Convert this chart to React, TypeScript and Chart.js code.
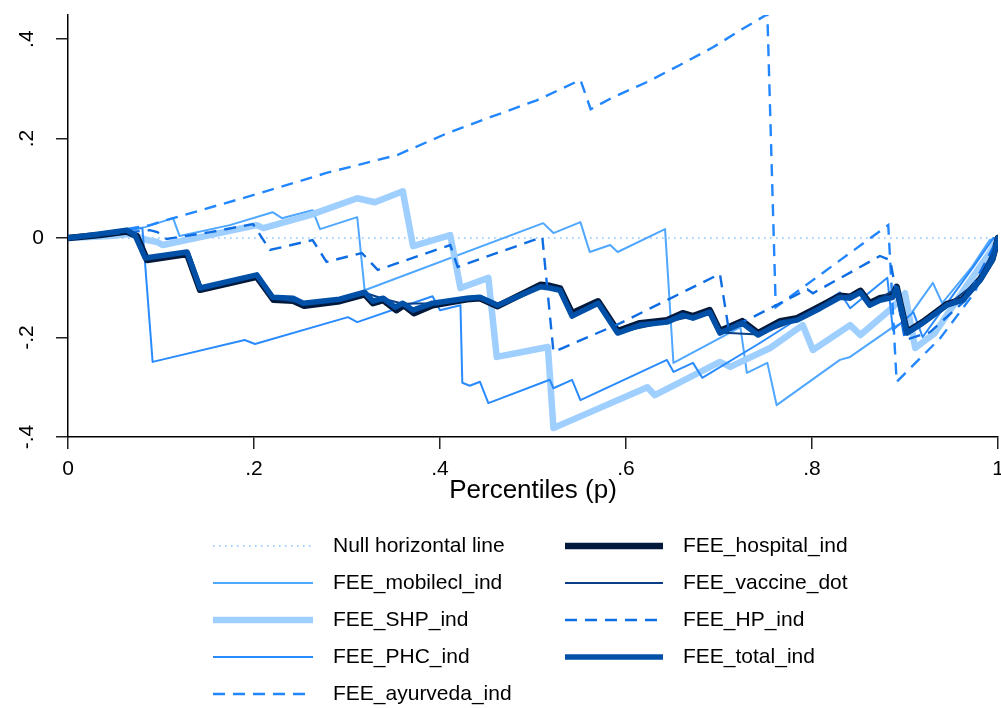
import React, { useEffect, useRef } from "react";
import { Chart, registerables } from "chart.js";

Chart.register(...registerables);

type Pt = [number, number];

// Axis ticks
const xTickValues = [0, 0.2, 0.4, 0.6, 0.8, 1];
const xTickLabels = ["0", ".2", ".4", ".6", ".8", "1"];
const yTickValues = [-0.4, -0.2, 0, 0.2, 0.4];
const yTickLabels = ["-.4", "-.2", "0", ".2", ".4"];

// Series: [percentile p, FEE value]
const nullLine: Pt[] = [[0, 0], [1, 0]];

const mobilecl: Pt[] = [
  [0, 0], [0.045, 0.012], [0.083, 0.022], [0.113, 0.04], [0.12, 0.004], [0.174, 0.026],
  [0.22, 0.052], [0.23, 0.04], [0.263, 0.056], [0.271, 0.018], [0.311, 0.042], [0.319, -0.105],
  [0.511, 0.03], [0.522, 0.01], [0.551, 0.032], [0.561, -0.028], [0.583, -0.014], [0.591, -0.028],
  [0.642, 0.018], [0.651, -0.251], [0.723, -0.179], [0.73, -0.271], [0.752, -0.251], [0.762, -0.336],
  [0.83, -0.245], [0.841, -0.239], [0.887, -0.179], [0.9, -0.169], [0.93, -0.09], [0.94, -0.131],
  [0.972, -0.058], [0.991, -0.004], [1, 0],
];

const shp: Pt[] = [
  [0, 0], [0.045, 0.004], [0.067, 0.008], [0.085, -0.004], [0.096, -0.008], [0.102, -0.014],
  [0.203, 0.026], [0.21, 0.02], [0.26, 0.046], [0.311, 0.08], [0.33, 0.072], [0.36, 0.094],
  [0.371, -0.016], [0.411, 0.006], [0.422, -0.1005], [0.452, -0.08], [0.461, -0.239], [0.483, -0.231],
  [0.516, -0.219], [0.522, -0.382], [0.554, -0.356], [0.623, -0.3], [0.631, -0.316], [0.701, -0.249],
  [0.712, -0.259], [0.755, -0.221], [0.79, -0.175], [0.801, -0.225], [0.841, -0.175], [0.852, -0.195],
  [0.887, -0.139], [0.9, -0.111], [0.911, -0.221], [0.932, -0.191], [0.967, -0.094], [0.991, -0.03],
  [1, 0],
];

const phc: Pt[] = [
  [0, 0], [0.045, 0.01], [0.08, 0.02], [0.091, -0.249], [0.19, -0.205], [0.201, -0.213],
  [0.301, -0.159], [0.311, -0.169], [0.392, -0.117], [0.4, -0.145], [0.422, -0.135], [0.424, -0.291],
  [0.432, -0.297], [0.443, -0.289], [0.452, -0.332], [0.518, -0.285], [0.522, -0.302], [0.542, -0.285],
  [0.551, -0.326], [0.644, -0.245], [0.651, -0.269], [0.672, -0.251], [0.682, -0.281], [0.744, -0.211],
  [0.83, -0.109], [0.841, -0.141], [0.881, -0.08], [0.887, -0.185], [0.909, -0.149], [0.919, -0.199],
  [0.975, -0.054], [0.995, 0], [1, 0],
];

const ayurveda: Pt[] = [
  [0, 0], [0.045, 0.012], [0.088, 0.026], [0.113, 0.04], [0.206, 0.09], [0.278, 0.131],
  [0.354, 0.167], [0.408, 0.211], [0.454, 0.243], [0.504, 0.277], [0.551, 0.318], [0.562, 0.259],
  [0.586, 0.283], [0.623, 0.314], [0.658, 0.348], [0.694, 0.384], [0.723, 0.418], [0.752, 0.45],
  [0.761, -0.139], [0.882, 0.026], [0.891, -0.289], [0.938, -0.201], [0.975, -0.109], [1, 0],
];

const hospital: Pt[] = [
  [0, 0], [0.034, 0.006], [0.063, 0.013], [0.074, 0.004], [0.085, -0.044], [0.128, -0.032],
  [0.142, -0.104], [0.203, -0.078], [0.221, -0.124], [0.242, -0.126], [0.254, -0.136], [0.292, -0.127],
  [0.319, -0.113], [0.328, -0.131], [0.339, -0.125], [0.353, -0.145], [0.361, -0.135], [0.372, -0.151],
  [0.392, -0.135], [0.429, -0.123], [0.443, -0.121], [0.462, -0.137], [0.508, -0.094], [0.518, -0.096],
  [0.529, -0.101], [0.542, -0.151], [0.57, -0.127], [0.591, -0.187], [0.615, -0.171], [0.644, -0.165],
  [0.661, -0.151], [0.672, -0.157], [0.69, -0.145], [0.701, -0.187], [0.725, -0.167], [0.742, -0.191],
  [0.766, -0.167], [0.784, -0.161], [0.809, -0.137], [0.83, -0.116], [0.841, -0.118], [0.852, -0.106],
  [0.862, -0.131], [0.873, -0.121], [0.887, -0.116], [0.891, -0.098], [0.902, -0.189], [0.919, -0.169],
  [0.945, -0.133], [0.962, -0.123], [0.981, -0.082], [0.994, -0.042], [1, 0],
];

const vaccine: Pt[] = [
  [0, 0], [0.034, 0.008], [0.063, 0.015], [0.072, 0.006], [0.083, -0.04], [0.128, -0.029],
  [0.142, -0.101], [0.203, -0.075], [0.22, -0.12], [0.253, -0.131], [0.292, -0.123], [0.319, -0.11],
  [0.339, -0.122], [0.36, -0.132], [0.392, -0.131], [0.443, -0.119], [0.462, -0.135], [0.508, -0.098],
  [0.529, -0.104], [0.542, -0.156], [0.57, -0.131], [0.591, -0.19], [0.644, -0.169], [0.69, -0.149],
  [0.701, -0.19], [0.742, -0.194], [0.784, -0.165], [0.83, -0.119], [0.852, -0.11], [0.862, -0.134],
  [0.891, -0.101], [0.902, -0.19], [0.945, -0.135], [0.981, -0.084], [1, 0],
];

const hp: Pt[] = [
  [0, 0], [0.045, 0.008], [0.088, 0.016], [0.096, 0.012], [0.106, -0.002], [0.153, 0.012],
  [0.199, 0.028], [0.217, -0.024], [0.263, -0.004], [0.278, -0.048], [0.316, -0.03], [0.333, -0.064],
  [0.411, -0.014], [0.419, -0.058], [0.51, 0.002], [0.522, -0.229], [0.594, -0.171], [0.701, -0.072],
  [0.71, -0.179], [0.73, -0.165], [0.795, -0.103], [0.801, -0.111], [0.873, -0.036], [0.884, -0.044],
  [0.9, -0.205], [0.927, -0.189], [0.965, -0.125], [1, 0],
];

const total: Pt[] = [
  [0, 0], [0.034, 0.008], [0.063, 0.016], [0.072, 0.006], [0.083, -0.04], [0.128, -0.028],
  [0.142, -0.1005], [0.203, -0.074], [0.22, -0.119], [0.242, -0.121], [0.253, -0.131], [0.292, -0.123],
  [0.319, -0.109], [0.328, -0.127], [0.339, -0.121], [0.352, -0.139], [0.36, -0.131], [0.371, -0.145],
  [0.392, -0.131], [0.429, -0.121], [0.443, -0.119], [0.462, -0.135], [0.508, -0.098], [0.518, -0.1005],
  [0.529, -0.105], [0.542, -0.157], [0.57, -0.131], [0.591, -0.191], [0.615, -0.175], [0.644, -0.169],
  [0.661, -0.155], [0.672, -0.161], [0.69, -0.149], [0.701, -0.191], [0.725, -0.171], [0.742, -0.195],
  [0.766, -0.171], [0.784, -0.165], [0.809, -0.141], [0.83, -0.119], [0.841, -0.121], [0.852, -0.109],
  [0.862, -0.135], [0.873, -0.125], [0.887, -0.119], [0.891, -0.1005], [0.902, -0.191], [0.919, -0.171],
  [0.945, -0.135], [0.962, -0.125], [0.981, -0.084], [0.994, -0.044], [1, 0],
];

const FONT = '"Liberation Sans", Arial, Helvetica, sans-serif';

interface SeriesStyle {
  label: string;
  data: Pt[];
  color: string;
  width: number;
  dash: number[];
}

const series: SeriesStyle[] = [
  { label: "Null horizontal line", data: nullLine, color: "#8cc3ff", width: 1.6, dash: [1.6, 4.4] },
  { label: "FEE_mobilecl_ind", data: mobilecl, color: "#4fa7ff", width: 2, dash: [] },
  { label: "FEE_SHP_ind", data: shp, color: "#9fcfff", width: 6.5, dash: [] },
  { label: "FEE_PHC_ind", data: phc, color: "#2a8bff", width: 2, dash: [] },
  { label: "FEE_ayurveda_ind", data: ayurveda, color: "#2287ff", width: 2.4, dash: [12, 8] },
  { label: "FEE_hospital_ind", data: hospital, color: "#03193b", width: 6.5, dash: [] },
  { label: "FEE_vaccine_dot", data: vaccine, color: "#0a3f85", width: 2, dash: [] },
  { label: "FEE_HP_ind", data: hp, color: "#0f6de3", width: 2.4, dash: [12, 8] },
  { label: "FEE_total_ind", data: total, color: "#0050a8", width: 5.5, dash: [] },
];

// Y tick labels (vertical, zero kept upright) and the two-column key below the plot
const overlayPlugin = {
  id: "overlay",
  afterDraw(chart: any) {
    const { ctx } = chart;
    const yScale = chart.scales.y;
    ctx.save();
    ctx.fillStyle = "#000";
    ctx.font = `21px ${FONT}`;
    yTickValues.forEach((v, i) => {
      const py = yScale.getPixelForValue(v);
      const text = yTickLabels[i];
      ctx.save();
      if (text === "0") {
        ctx.textAlign = "center";
        ctx.textBaseline = "middle";
        ctx.fillText(text, 38, py);
      } else {
        ctx.textAlign = "center";
        ctx.textBaseline = "alphabetic";
        ctx.translate(33, py);
        ctx.rotate(-Math.PI / 2);
        ctx.fillText(text, 0, 0);
      }
      ctx.restore();
    });

    const colSample = [[213, 313], [565, 663]];
    const colText = [333, 683];
    series.forEach((s, i) => {
      const col = i < 5 ? 0 : 1;
      const row = i < 5 ? i : i - 5;
      const y = 546 + row * 37;
      ctx.save();
      ctx.strokeStyle = s.color;
      ctx.lineWidth = s.width;
      ctx.setLineDash(s.dash);
      ctx.lineCap = "butt";
      ctx.beginPath();
      ctx.moveTo(colSample[col][0], y);
      ctx.lineTo(colSample[col][1], y);
      ctx.stroke();
      ctx.restore();
      ctx.fillStyle = "#000";
      ctx.textAlign = "left";
      ctx.textBaseline = "middle";
      ctx.font = `21px ${FONT}`;
      ctx.fillText(s.label, colText[col], y);
    });
    ctx.restore();
  },
};

export default function App() {
  const canvasRef = useRef<HTMLCanvasElement | null>(null);

  useEffect(() => {
    const canvas = canvasRef.current;
    if (!canvas) return;
    Chart.defaults.font.family = FONT;

    const datasets = series.map((s, i) => ({
      label: s.label,
      data: s.data.map(([x, y]) => ({ x, y })),
      borderColor: s.color,
      backgroundColor: s.color,
      borderWidth: s.width,
      borderDash: s.dash,
      borderJoinStyle: (s.dash.length ? "miter" : "round") as any,
      borderCapStyle: (s.dash.length ? "butt" : "round") as any,
      pointRadius: 0,
      showLine: true,
      fill: false,
      tension: 0,
      order: series.length - i,
    }));

    const chart = new Chart(canvas, {
      type: "scatter",
      data: { datasets },
      options: {
        animation: false,
        responsive: false,
        maintainAspectRatio: false,
        devicePixelRatio: 1,
        layout: { padding: { left: 0, right: 3, top: 15, bottom: 0 } },
        plugins: { legend: { display: false }, tooltip: { enabled: false } },
        scales: {
          x: {
            type: "linear",
            position: "bottom",
            min: 0,
            max: 1,
            afterBuildTicks: (s: any) => {
              s.ticks = xTickValues.map((value) => ({ value }));
            },
            ticks: {
              autoSkip: false,
              maxRotation: 0,
              padding: 8,
              color: "#000",
              font: { size: 21, family: FONT },
              callback: (v: any) => xTickLabels[xTickValues.indexOf(Number(v))] ?? "",
            },
            grid: { display: true, drawOnChartArea: false, drawTicks: true, tickLength: 12, color: "#222", lineWidth: 1.5 },
            border: { display: true, color: "#000", width: 1.5 },
            title: {
              display: true,
              text: "Percentiles (p)",
              color: "#000",
              font: { size: 26, family: FONT },
              padding: { top: 0, bottom: 202 },
            },
            afterFit: (s: any) => {
              s.height = 271;
              s.paddingLeft = 0;
              s.paddingRight = 0;
            },
          },
          y: {
            type: "linear",
            position: "left",
            min: -0.4,
            max: 0.4485,
            afterBuildTicks: (s: any) => {
              s.ticks = yTickValues.map((value) => ({ value }));
            },
            ticks: { display: false },
            grid: { display: true, drawOnChartArea: false, drawTicks: true, tickLength: 12, color: "#222", lineWidth: 1.5 },
            border: { display: true, color: "#000", width: 1.5 },
            afterFit: (s: any) => {
              s.width = 68;
              s.paddingTop = 0;
              s.paddingBottom = 0;
            },
          },
        },
      },
      plugins: [overlayPlugin],
    });

    return () => chart.destroy();
  }, []);

  return (
    <div style={{ position: "absolute", left: 0, top: 0, width: 1001, height: 708, background: "#fff" }}>
      <canvas ref={canvasRef} width={1001} height={708} style={{ display: "block" }} />
    </div>
  );
}
